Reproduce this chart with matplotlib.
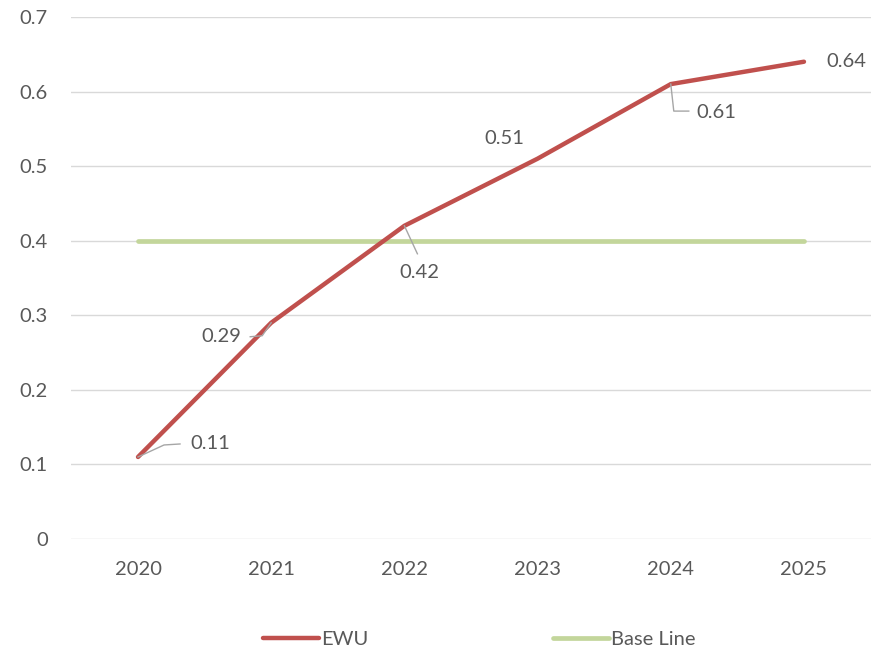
import matplotlib
matplotlib.use("Agg")
import matplotlib.pyplot as plt
from matplotlib.transforms import Affine2D, ScaledTranslation

plt.rcParams['font.family'] = ['Lato', 'DejaVu Sans']

years = ["2020", "2021", "2022", "2023", "2024", "2025"]
ewu = [0.11, 0.29, 0.42, 0.51, 0.61, 0.64]
base_line = [0.4, 0.4, 0.4, 0.4, 0.4, 0.4]
y_ticks = [0, 0.1, 0.2, 0.3, 0.4, 0.5, 0.6, 0.7]
y_tick_labels = ["0", "0.1", "0.2", "0.3", "0.4", "0.5", "0.6", "0.7"]

text_color = "#595959"
grid_color = "#d9d9d9"
leader_color = "#a6a6a6"
red = "#c0504d"
green = "#c3d69b"
fs = 14.5

fig = plt.figure(figsize=(8.84, 6.48), dpi=100)
ax = fig.add_axes([0.0808, 0.1682, 0.904, 0.8056])

x = list(range(len(years)))
ax.plot(x, base_line, color=green, lw=3.4, solid_capstyle='round', label="Base Line", zorder=3)
ax.plot(x, ewu, color=red, lw=3.2, solid_capstyle='round', solid_joinstyle='miter', label="EWU", zorder=4)

ax.set_xlim(-0.5, len(years) - 0.5)
ax.set_ylim(0, 0.7)
ax.set_xticks(x)
ax.set_xticklabels(years)
ax.set_yticks(y_ticks)
ax.set_yticklabels(y_tick_labels)
ax.tick_params(axis='both', length=0, labelsize=fs, labelcolor=text_color)
ax.tick_params(axis='x', pad=16)
ax.tick_params(axis='y', pad=17)
ax.grid(axis='y', color=grid_color, lw=1.0)
ax.set_axisbelow(True)
for s in ax.spines.values():
    s.set_visible(False)

# data labels: (text offset px, alignment, leader path px)
label_specs = [
    ((52, 13), 'left', [(0, 0), (26, 12), (42, 13)]),
    ((-30, -14), 'right', [(0, 0), (-9, -13), (-21, -14)]),
    ((15, -47), 'center', [(0, 0), (13, -28)]),
    ((-33, 20), 'center', None),
    ((26, -28), 'left', [(0, 0), (3, -27), (18, -27)]),
    ((22, 0), 'left', None),
]
for xi, val, (off, ha, path) in zip(x, ewu, label_specs):
    ax.annotate(f"{val:.2f}", xy=(xi, val), xytext=off, textcoords='offset pixels',
                ha=ha, va='center', fontsize=fs, color=text_color, zorder=6)
    if path:
        tr = Affine2D() + ScaledTranslation(xi, val, ax.transData)
        xs = [p[0] for p in path]
        ys = [p[1] for p in path]
        ax.plot(xs, ys, transform=tr, color=leader_color, lw=1.0, zorder=5, clip_on=False)

handles, labels = ax.get_legend_handles_labels()
order = [1, 0]
leg = fig.legend([handles[i] for i in order], [labels[i] for i in order],
                 loc='center', bbox_to_anchor=(0.542, 0.013), ncol=2, frameon=False,
                 fontsize=fs, handlelength=2.8, handletextpad=0.1, columnspacing=9.15)
for t in leg.get_texts():
    t.set_color(text_color)

fig.savefig("out.png", dpi=100)
